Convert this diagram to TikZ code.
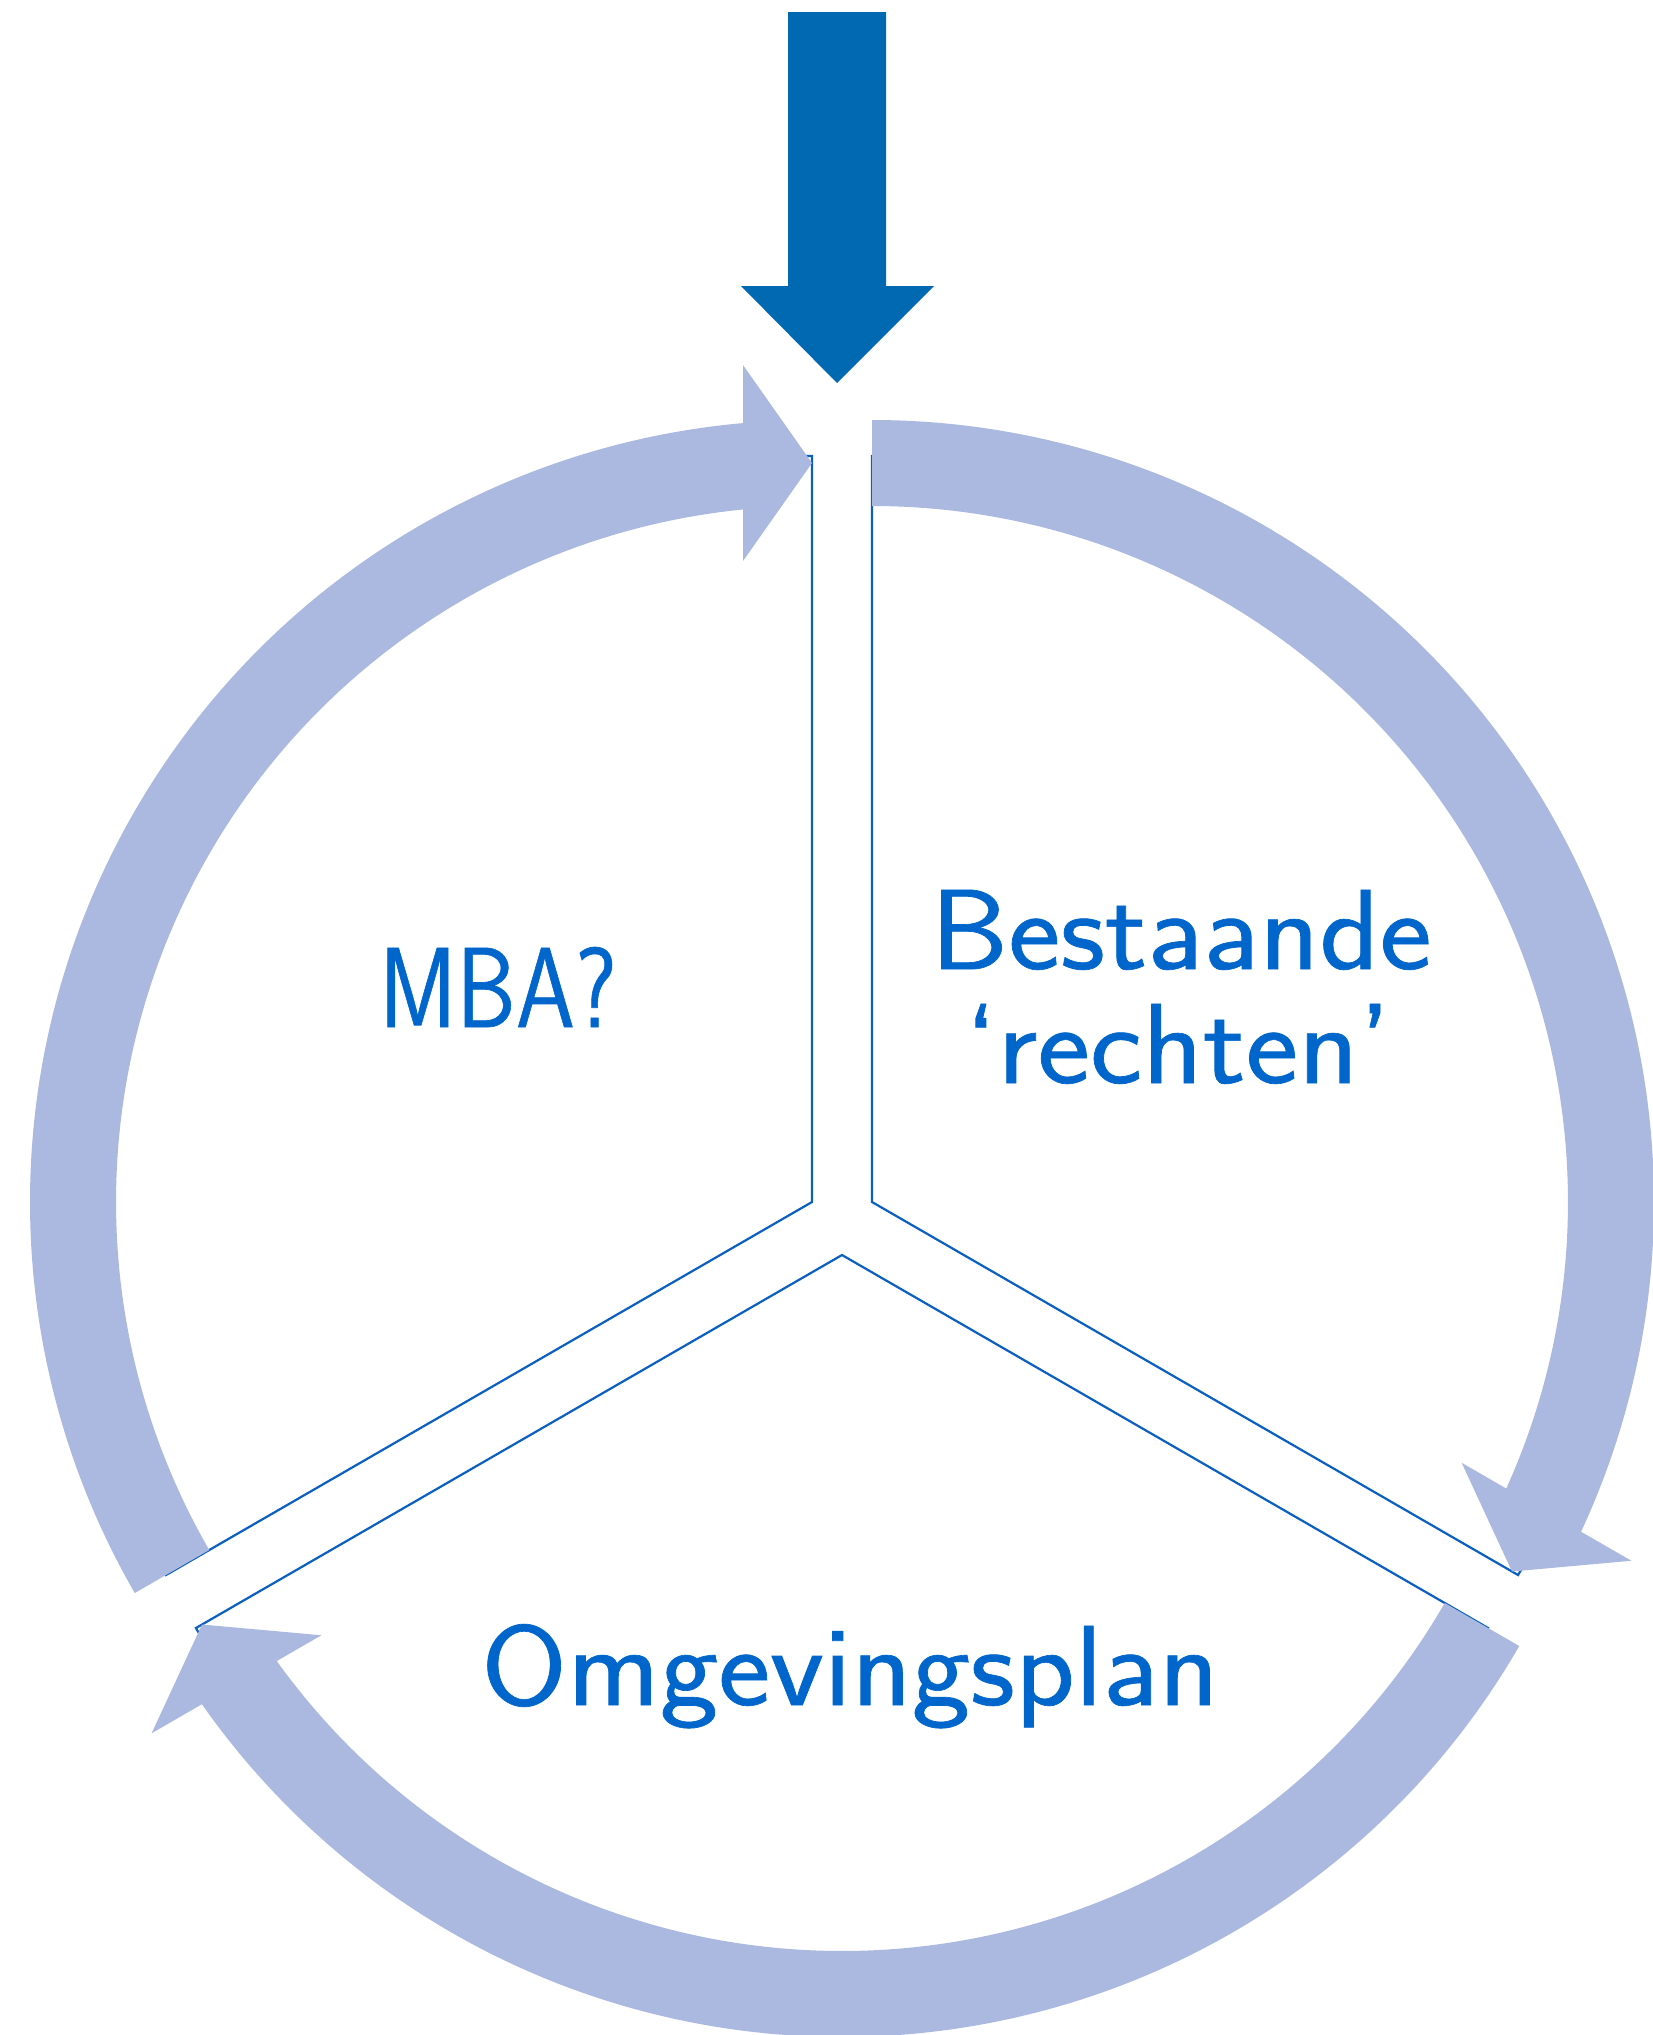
\documentclass[tikz,border=0pt]{standalone}
\usepackage{fontspec}
\usepackage{graphicx}
\usetikzlibrary{calc}
\newfontfamily\labelfont{Latin Modern Sans}[FakeBold=0.6]
\definecolor{ringblue}{RGB}{171,185,225}
\definecolor{darkarrow}{RGB}{0,105,177}
\definecolor{lineblue}{RGB}{10,95,192}
\definecolor{textblue}{RGB}{0,102,204}
\tikzset{
  ringfill/.style={fill=ringblue, draw=none},
  sectorline/.style={draw=lineblue, line width=2.2pt, line join=miter},
  txtlabel/.style={text=textblue, font=\labelfont\fontsize{114}{120}\selectfont, inner sep=0pt, anchor=base},
}
% #1 centre, #2 start angle, #3 tip angle (clockwise)
\newcommand{\RingArrow}[3]{%
  \fill[ringfill] ($(#1)+(#2:782pt)$) arc[start angle=#2, end angle=#3+5.06, radius=782pt]
   -- ($(#1)+(#3:837pt)+(#3+90:69pt)$)
   -- ($(#1)+(#3:739pt)$)
   -- ($(#1)+(#3:641pt)+(#3+90:69pt)$)
   -- ($(#1)+(#3+5.69:696pt)$) arc[start angle=#3+5.69, end angle=#2, radius=696pt] -- cycle;}
\begin{document}
\begin{tikzpicture}[x=1pt,y=1pt]
\useasboundingbox (0,-2035) rectangle (1653,0);
\clip (0,-2035) rectangle (1653,0);
\coordinate (cL) at (812,-1202);
\coordinate (cR) at (872,-1202);
\coordinate (cB) at (842,-1255);
% sector outlines
\draw[sectorline] (cL) -- ($(cL)+(90:746pt)$) arc[start angle=90, end angle=210, radius=746pt] -- cycle;
\draw[sectorline] (cR) -- ($(cR)+(-30:746pt)$) arc[start angle=-30, end angle=90, radius=746pt] -- cycle;
\draw[sectorline] (cB) -- ($(cB)+(210:746pt)$) arc[start angle=210, end angle=330, radius=746pt] -- cycle;
% ring arrows
\RingArrow{cL}{210}{90}
\RingArrow{cR}{90}{-30}
\RingArrow{cB}{330}{210}
% top arrow
\fill[darkarrow] (788,-12) -- (886,-12) -- (886,-286) -- (934,-286) -- (837,-383) -- (741,-286) -- (788,-286) -- cycle;
% texts
\node[txtlabel] (mba) at (498,-1027) {\scalebox{0.83}[1]{MBA?}};
\node[txtlabel] (best1) at (1181,-969) {\scalebox{1.09}[1]{Bestaande}};
\node[txtlabel] (best2) at (1178,-1083) {\scalebox{1.1}[1]{‘rechten’}};
\node[txtlabel] (omg) at (850,-1705) {\scalebox{1.09}[1]{Omgevingsplan}};
\end{tikzpicture}
\end{document}
